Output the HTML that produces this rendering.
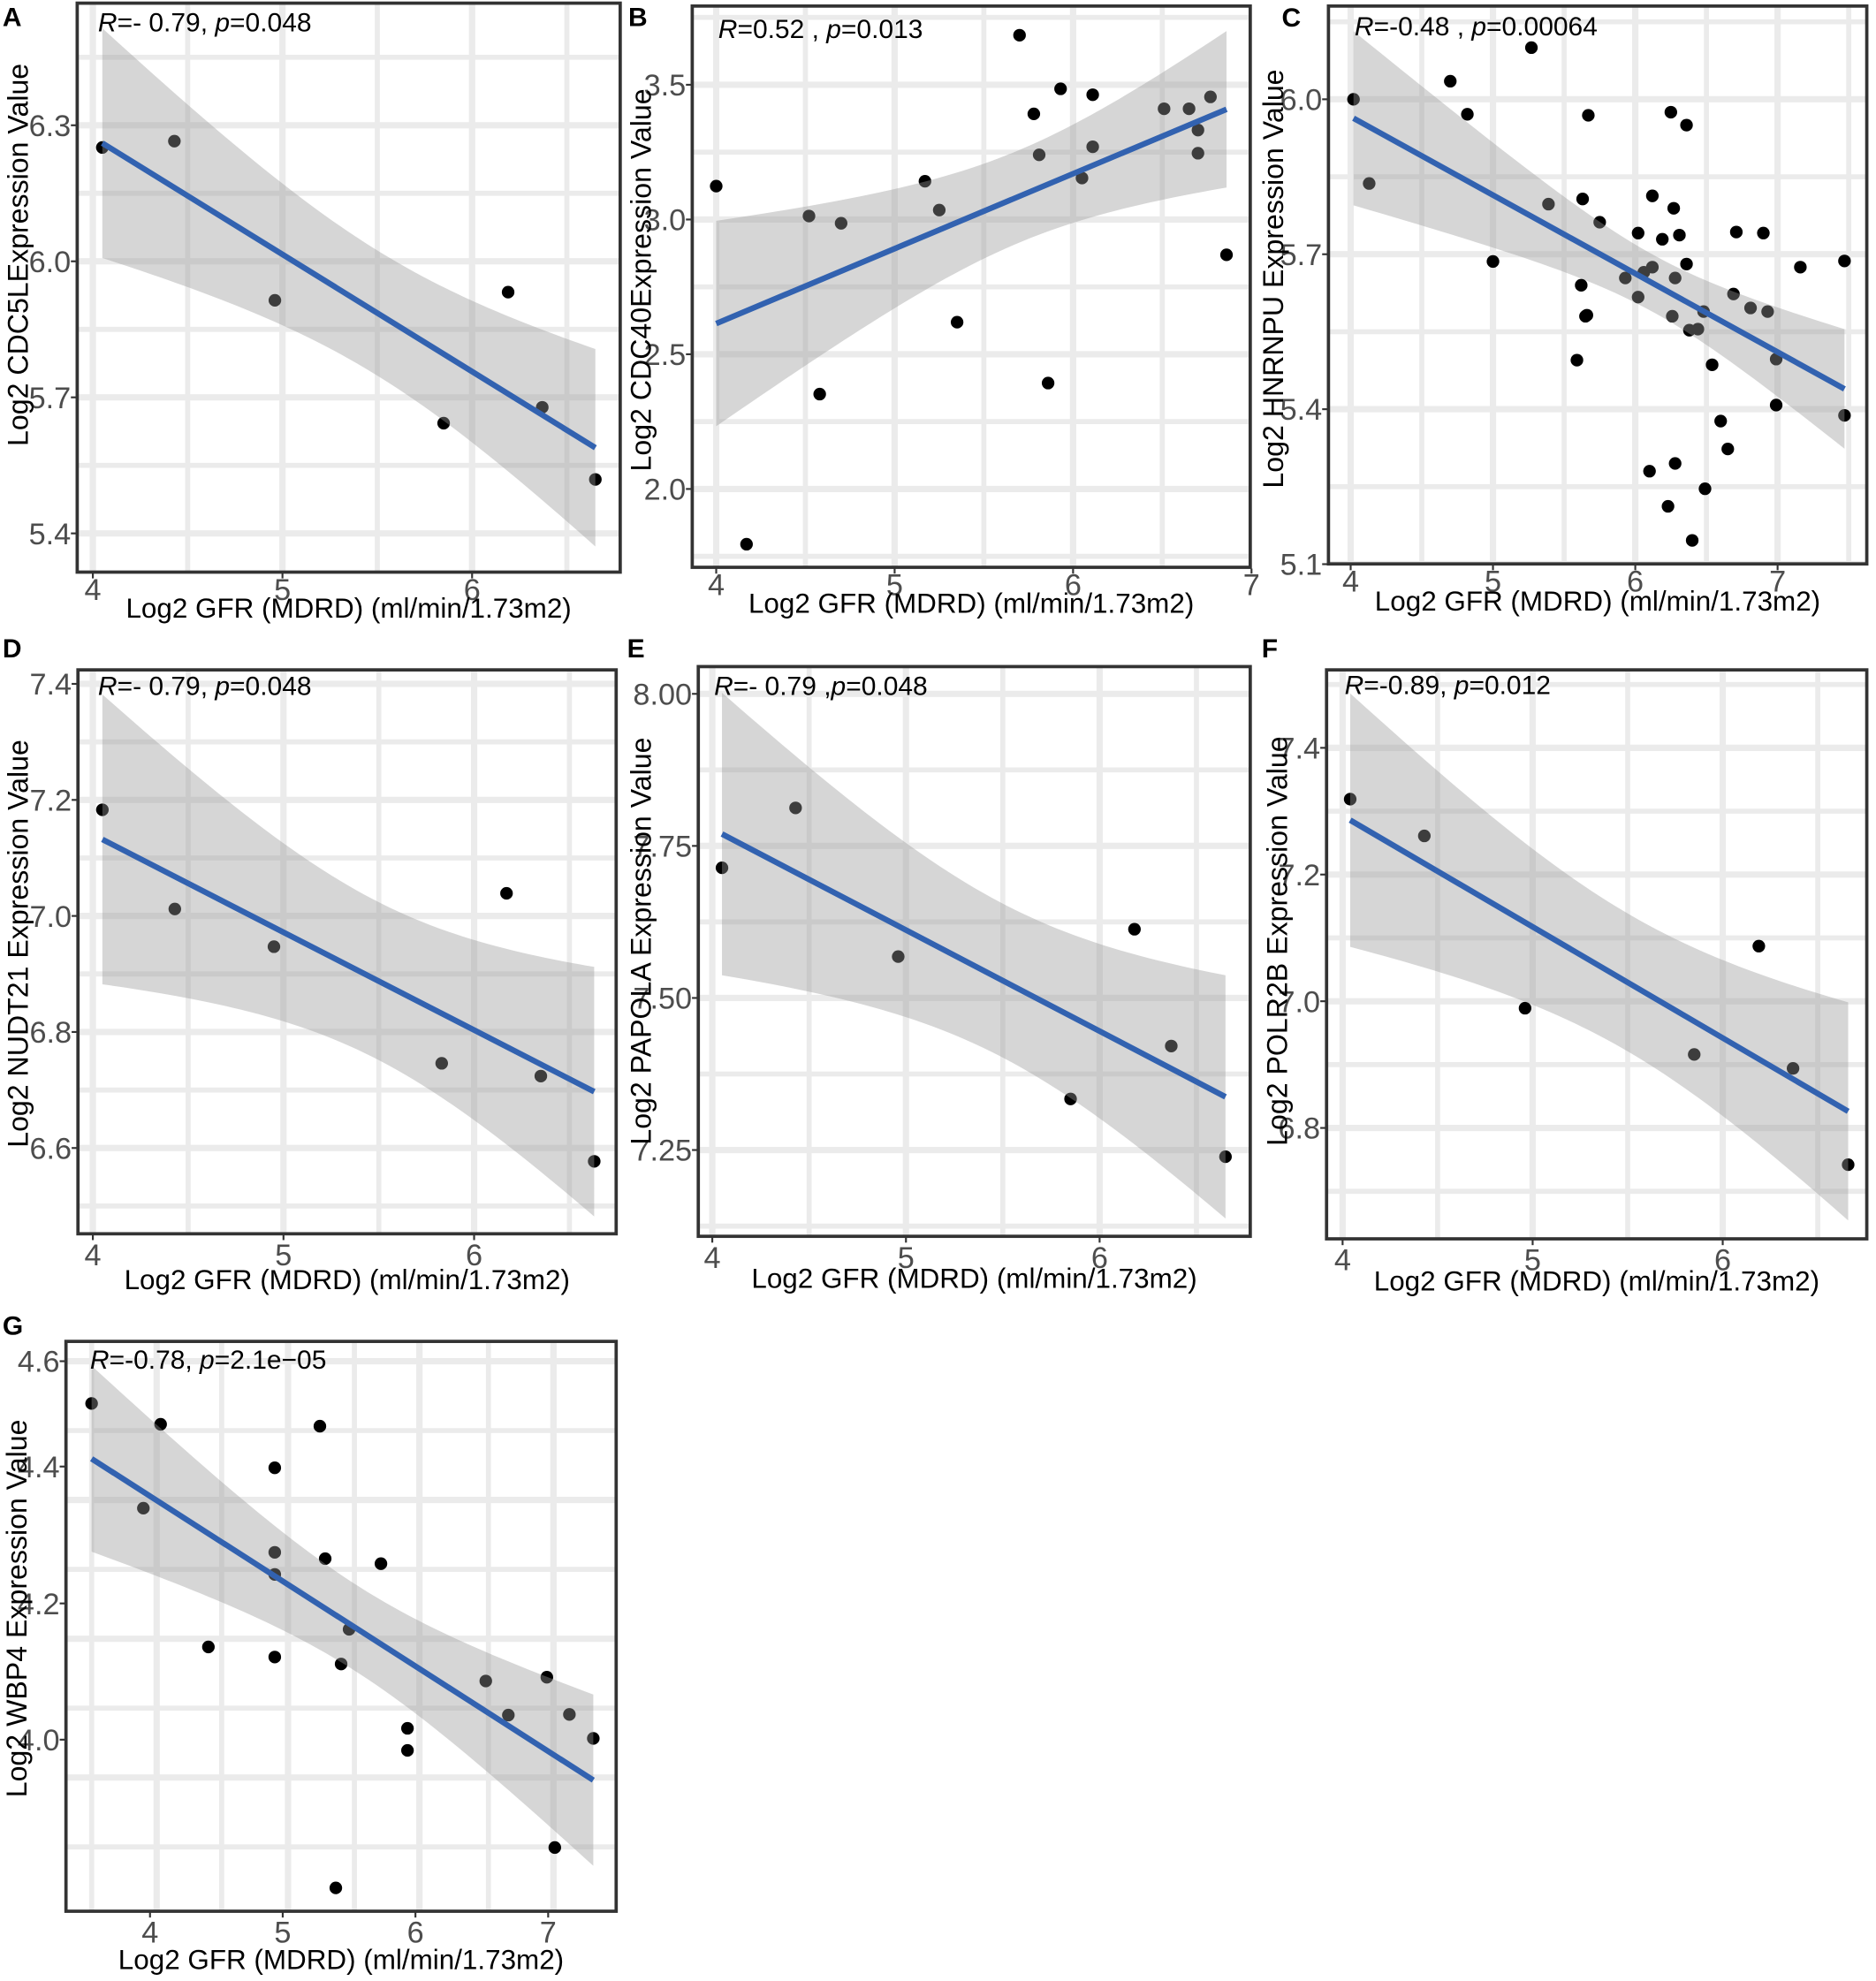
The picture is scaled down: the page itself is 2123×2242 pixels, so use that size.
<!DOCTYPE html>
<html><head><meta charset="utf-8"><title>GFR correlation panels</title>
<style>
html,body{margin:0;padding:0;background:#fff;}
svg{display:block;font-family:"Liberation Sans",Arial,sans-serif;}
</style></head>
<body>
<svg id="fig" xmlns="http://www.w3.org/2000/svg" width="2123" height="2242" viewBox="0 0 1487 1570.3" preserveAspectRatio="none">
<rect x="0" y="0" width="1487" height="1570.3" fill="#fff"/>
</svg>
<script>
// ---- data (Log2 GFR vs Log2 expression) ----
const aGfr  = [4.05,4.43,4.96,5.85,6.19,6.37,6.65];
const aExpr = [6.251,6.265,5.914,5.643,5.932,5.678,5.519];
const bGfr  = [4.00,4.17,4.52,4.58,4.70,5.17,5.25,5.35,5.70,5.78,5.81,5.86,5.93,6.05,6.11,6.11,6.51,6.65,6.70,6.70,6.77,6.86];
const bExpr = [3.124,1.795,3.013,2.352,2.986,3.142,3.035,2.619,3.684,3.392,3.24,2.393,3.485,3.154,3.463,3.27,3.411,3.411,3.332,3.246,3.455,2.869];
const cGfr  = [4.02,4.13,4.70,4.82,5.00,5.27,5.39,5.63,5.67,5.75,5.62,5.65,5.66,5.59,5.93,6.02,6.02,6.06,6.12,6.12,6.19,6.25,6.27,6.31,6.28,6.26,6.36,6.36,6.38,6.44,6.48,6.10,6.28,6.23,6.49,6.40,6.54,6.60,6.65,6.69,6.71,6.81,6.93,6.90,6.99,6.99,7.16,7.47,7.47];
const cExpr = [6.00,5.837,6.035,5.971,5.686,6.10,5.797,5.807,5.969,5.762,5.640,5.580,5.582,5.495,5.654,5.741,5.617,5.665,5.675,5.813,5.729,5.975,5.789,5.737,5.654,5.580,5.681,5.950,5.553,5.555,5.589,5.280,5.295,5.212,5.246,5.146,5.486,5.377,5.323,5.623,5.743,5.596,5.589,5.741,5.497,5.408,5.675,5.687,5.388];
const dGfr  = [4.05,4.43,4.95,5.83,6.17,6.35,6.63];
const dExpr = [7.183,7.012,6.947,6.746,7.039,6.724,6.577];
const eGfr  = [4.05,4.43,4.96,5.85,6.18,6.37,6.65];
const eExpr = [7.714,7.8125,7.568,7.334,7.613,7.421,7.239];
const fGfr  = [4.04,4.43,4.96,5.85,6.19,6.37,6.66];
const fExpr = [7.319,7.261,6.989,6.916,7.087,6.894,6.742];
const gGfr  = [3.56,4.08,3.95,5.28,4.94,4.94,4.94,5.32,5.74,4.44,4.94,5.50,5.44,6.53,6.70,6.99,7.16,7.34,5.94,5.94,7.05,5.40];
const gExpr = [4.533,4.50,4.367,4.497,4.431,4.297,4.262,4.287,4.279,4.147,4.131,4.175,4.12,4.093,4.039,4.099,4.04,4.002,4.018,3.983,3.829,3.765];
// tick labels
const xTicks47 = [4,5,6,7];
const xTicks46 = [4,5,6];
const aYTicks = [6.3,6.0,5.7,5.4];
const bYTicks = [3.5,3.0,2.5,2.0];
const cYTicks = [6.0,5.7,5.4,5.1];
const dYTicks = [7.4,7.2,7.0,6.8,6.6];
const eYTicks = [8.00,7.75,7.50,7.25];
const fYTicks = [7.4,7.2,7.0,6.8];
const gYTicks = [4.6,4.4,4.2,4.0];
// panel G's printed y labels sit off their true values in the source figure
const gYTickAt = [4.6,4.433,4.216,4.0];
const gXGrid = [3.56,4.05,4.54,5.04,5.54,6.03,6.55,7.04];
const gYGrid = [4.6,4.49,4.38,4.27,4.16,4.05,3.94,3.83];

const NS = "http://www.w3.org/2000/svg";
const fig = document.getElementById('fig');
function mk(tag, attrs, parent){
  const e = document.createElementNS(NS, tag);
  for (const k in attrs) e.setAttribute(k, attrs[k]);
  (parent||fig).appendChild(e);
  return e;
}
function tq(df){ return 1.96 + 2.4/df + 3/(df*df); }

const panels = [
 {id:'a', letter:'A', lx:2, ly:20.5, x:aGfr, y:aExpr, box:[61.2,2.5,491.6,453.5], xm:[4,73.6,6,374.2], ym:[6.3,99.3,5.4,422.8], xt:xTicks46, yt:aYTicks, dec:1, ystep:0.3, xstep:1,
  yTitle:'Log2 CDC5LExpression Value', ytx:22, yty:202, r:['=- 0.79, ','=0.048'], rx:77.7, ry:25, tOff:22, tiOff:36},
 {id:'b', letter:'B', lx:498, ly:20.5, x:bGfr, y:bExpr, box:[548.7,4.8,991,449.7], xm:[4,567.7,7,992], ym:[3.5,67.2,2.0,387.6], xt:xTicks47, yt:bYTicks, dec:1, ystep:0.5, xstep:1,
  yTitle:'Log2 CDC40Expression Value', ytx:516, yty:222, r:['=0.52 , ','=0.013'], rx:569.3, ry:30, tOff:22, tiOff:36},
 {id:'c', letter:'C', lx:1016, ly:21, x:cGfr, y:cExpr, box:[1053,4.8,1479.7,447], xm:[4,1070.6,7,1409], ym:[6.0,78.7,5.1,447.2], xt:xTicks47, yt:cYTicks, dec:1, ystep:0.3, xstep:1,
  yTitle:'Log2 HNRNPU Expression Value', ytx:1017, yty:221, r:['=-0.48 , ','=0.00064'], rx:1073.7, ry:28, tOff:22, tiOff:37},
 {id:'d', letter:'D', lx:2, ly:521, x:dGfr, y:dExpr, box:[61.8,531,488.4,978], xm:[4,73.6,6,375.8], ym:[7.4,542.1,6.6,910], xt:xTicks46, yt:dYTicks, dec:1, ystep:0.2, xstep:1,
  yTitle:'Log2 NUDT21 Expression Value', ytx:22, yty:748, r:['=- 0.79, ','=0.048'], rx:77.7, ry:551, tOff:25, tiOff:44},
 {id:'e', letter:'E', lx:497, ly:521, x:eGfr, y:eExpr, box:[553.5,528.4,991,980], xm:[4,564.6,6,871.6], ym:[8.0,550,7.25,911.6], xt:xTicks46, yt:eYTicks, dec:2, ystep:0.25, xstep:1,
  yTitle:'Log2 PAPOLA Expression Value', ytx:516, yty:746, r:['=- 0.79 ,','=0.048'], rx:566, ry:551, tOff:25, tiOff:41},
 {id:'f', letter:'F', lx:1000, ly:521, x:fGfr, y:fExpr, box:[1051.5,531,1479.7,982], xm:[4,1064.2,6,1365.5], ym:[7.4,592.8,6.8,894.1], xt:xTicks46, yt:fYTicks, dec:1, ystep:0.2, xstep:1,
  yTitle:'Log2 POLR2B Expression Value', ytx:1020, yty:746, r:['=-0.89, ','=0.012'], rx:1065.8, ry:550, tOff:25, tiOff:41},
 {id:'g', letter:'G', lx:2, ly:1058, x:gGfr, y:gExpr, box:[52.3,1063.3,488.4,1515], xm:[4,118.9,7,434.5], ym:[4.6,1079,4.0,1379], xt:xTicks47, yt:gYTicks, ytAt:gYTickAt, dec:1, ystep:0.2, xstep:1,
  yTitle:'Log2 WBP4 Expression Value', ytx:21, yty:1275, r:['=-0.78, ','=2.1e\u221205'], rx:71.4, ry:1085, xg:gXGrid, yg:gYGrid, tOff:25, tiOff:46}
];

panels.forEach(p => {
  const [L,T,R,B] = p.box;
  const sx = v => p.xm[1] + (v - p.xm[0]) * (p.xm[3]-p.xm[1])/(p.xm[2]-p.xm[0]);
  const sy = v => p.ym[1] + (v - p.ym[0]) * (p.ym[3]-p.ym[1])/(p.ym[2]-p.ym[0]);
  const g = mk('g', {});
  
  
  const cp = mk('clipPath', {id:'clip-'+p.id}, g);
  mk('rect', {x:L, y:T, width:R-L, height:B-T}, cp);
  const plot = mk('g', {'clip-path':'url(#clip-'+p.id+')'}, g);
  
  
  mk('rect', {x:L, y:T, width:R-L, height:B-T, fill:'#fff'}, plot);
  // grid
  const gl = mk('g', {stroke:'#ebebeb'}, plot);
  
  
  if (p.xg) {
    p.xg.forEach((v,i) => mk('line', {x1:sx(v), x2:sx(v), y1:T, y2:B, 'stroke-width': i%2 ? 5 : 4}, gl));
    p.yg.forEach((v,i) => mk('line', {x1:L, x2:R, y1:sy(v), y2:sy(v), 'stroke-width': i%2 ? 4 : 5}, gl));
  } else {
    const xs = p.xt, ys = p.yt;
    const xmin = xs[0]-p.xstep, xmax = xs[xs.length-1]+p.xstep;
    for (let v = xmin; v <= xmax + 1e-9; v += p.xstep/2) {
      const major = Math.abs(Math.round((v - xs[0])/p.xstep) - (v - xs[0])/p.xstep) < 1e-6;
      mk('line', {x1:sx(v), x2:sx(v), y1:T, y2:B, 'stroke-width': major ? 5 : 4}, gl);
    }
    const ylo = Math.min(...ys) - p.ystep, yhi = Math.max(...ys) + p.ystep;
    for (let v = ylo; v <= yhi + 1e-9; v += p.ystep/2) {
      const major = Math.abs(Math.round((v - ylo)/p.ystep) - (v - ylo)/p.ystep) < 1e-6;
      mk('line', {x1:L, x2:R, y1:sy(v), y2:sy(v), 'stroke-width': major ? 5 : 4}, gl);
    }
  }
  // points
  const pts = mk('g', {fill:'#000'}, plot);
  
  
  p.x.forEach((xv,i) => {
    const c = mk('circle', {cx:sx(xv), cy:sy(p.y[i]), r:5}, pts);
    
    
  });
  // regression
  const n = p.x.length;
  const mx = p.x.reduce((s,v)=>s+v,0)/n, my = p.y.reduce((s,v)=>s+v,0)/n;
  let sxx=0, sxy=0;
  for (let i=0;i<n;i++){ sxx += (p.x[i]-mx)**2; sxy += (p.x[i]-mx)*(p.y[i]-my); }
  const b = sxy/sxx, a = my - b*mx;
  let sse = 0;
  for (let i=0;i<n;i++){ sse += (p.y[i]-(a+b*p.x[i]))**2; }
  const s2 = sse/(n-2), t = tq(n-2);
  const x0 = Math.min(...p.x), x1 = Math.max(...p.x);
  const up = [], lo = [];
  for (let k=0;k<=60;k++){
    const xv = x0 + (x1-x0)*k/60;
    const yh = a + b*xv;
    const se = Math.sqrt(s2*(1/n + (xv-mx)**2/sxx));
    up.push(sx(xv).toFixed(2)+','+sy(yh + t*se).toFixed(2));
    lo.unshift(sx(xv).toFixed(2)+','+sy(yh - t*se).toFixed(2));
  }
  const band = mk('polygon', {points: up.concat(lo).join(' '), fill:'#999', 'fill-opacity':0.4}, plot);
  
  
  const line = mk('line', {x1:sx(x0), y1:sy(a+b*x0), x2:sx(x1), y2:sy(a+b*x1), stroke:'#3262b0', 'stroke-width':4.5}, plot);
  
  
  // frame
  const fr = mk('rect', {x:L, y:T, width:R-L, height:B-T, fill:'none', stroke:'#333', 'stroke-width':2.6}, g);
  
  
  // x ticks
  const xa = mk('g', {}, g);
  
  
  p.xt.forEach(v => {
    mk('line', {x1:sx(v), x2:sx(v), y1:B+1, y2:B+5, stroke:'#333', 'stroke-width':1.5}, xa);
    const tx = mk('text', {x:sx(v), y:B+p.tOff, 'font-size':24, fill:'#4d4d4d', 'text-anchor':'middle'}, xa);
    tx.textContent = String(v);
    
    
  });
  const xt = mk('text', {x:(L+R)/2, y:B+p.tiOff, 'font-size':22, fill:'#000', 'text-anchor':'middle'}, g);
  xt.textContent = 'Log2 GFR (MDRD) (ml/min/1.73m2)';
  
  
  // y ticks
  const ya = mk('g', {}, g);
  
  
  p.yt.forEach((v,i) => {
    const pos = p.ytAt ? p.ytAt[i] : v;
    mk('line', {x1:L-5, x2:L-1, y1:sy(pos), y2:sy(pos), stroke:'#333', 'stroke-width':1.5}, ya);
    const ty = mk('text', {x:L-5, y:sy(pos)+8.5, 'font-size':24, fill:'#4d4d4d', 'text-anchor':'end'}, ya);
    ty.textContent = v.toFixed(p.dec);
    
    
  });
  const yt = mk('text', {x:0, y:0, 'font-size':22.5, fill:'#000', 'text-anchor':'middle', transform:'translate('+p.ytx+','+p.yty+') rotate(-90)'}, g);
  yt.textContent = p.yTitle;
  
  
  // stats annotation
  const rt = mk('text', {x:p.rx, y:p.ry, 'font-size':21, fill:'#000'}, g);
  
  
  const t1 = mk('tspan', {'font-style':'italic'}, rt); t1.textContent = 'R';
  const t2 = mk('tspan', {}, rt); t2.textContent = p.r[0];
  const t3 = mk('tspan', {'font-style':'italic'}, rt); t3.textContent = 'p';
  const t4 = mk('tspan', {}, rt); t4.textContent = p.r[1];
  // panel letter
  const lt = mk('text', {x:p.lx, y:p.ly, 'font-size':21, 'font-weight':'bold', fill:'#000'}, g);
  lt.textContent = p.letter;
  
  
});
</script>
</body></html>
